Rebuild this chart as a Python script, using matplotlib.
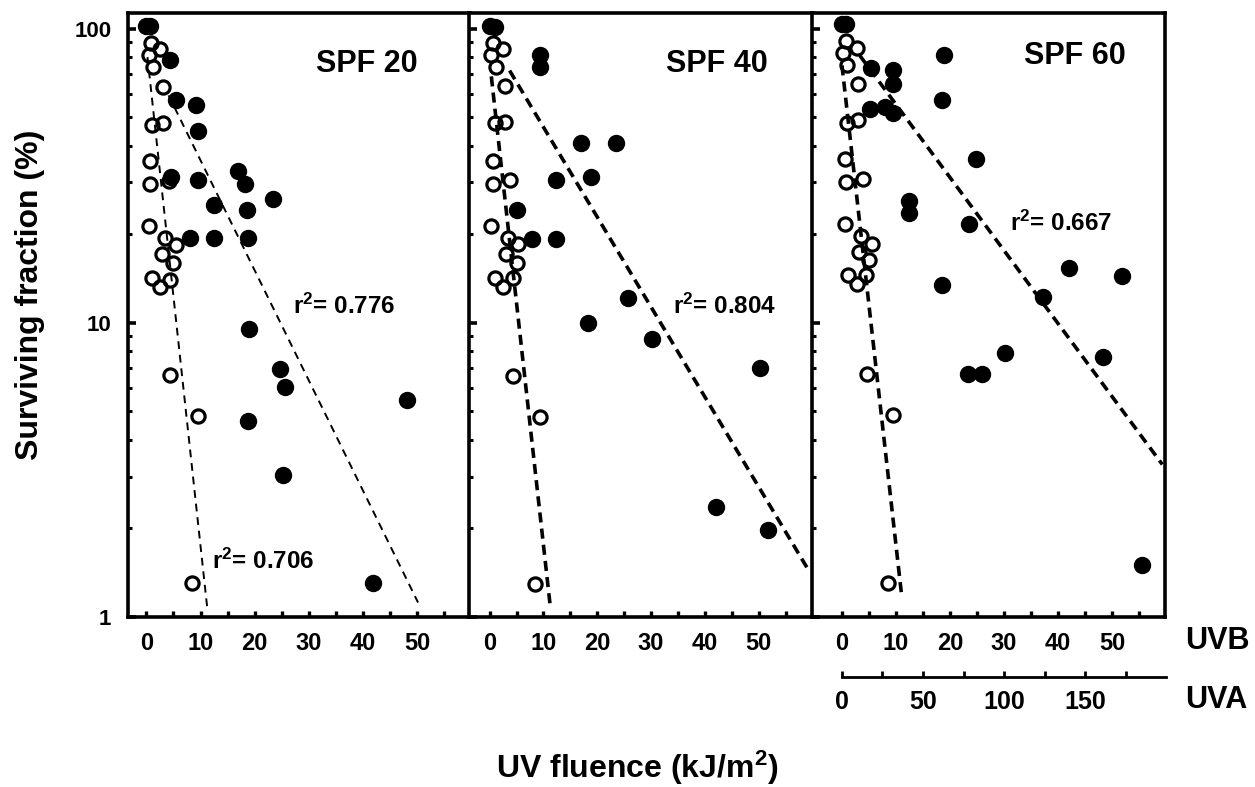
import numpy as np
import matplotlib.pyplot as plt
from matplotlib.ticker import FixedLocator, LogLocator, NullFormatter

plt.rcParams['font.family'] = ['Liberation Sans', 'DejaVu Sans']
plt.rcParams['font.weight'] = 'bold'
plt.rcParams['mathtext.fontset'] = 'custom'
plt.rcParams['mathtext.rm'] = 'Liberation Sans:bold'
plt.rcParams['mathtext.bf'] = 'Liberation Sans:bold'
plt.rcParams['mathtext.it'] = 'Liberation Sans:bold'
plt.rcParams['mathtext.default'] = 'bf'

# UVB fluence (kJ/m2) and surviving fraction (%)
spf20_closed_x = [0, 0.6, 4.4, 5.4, 9.2, 9.5, 17.0, 18.3, 23.4, 4.6, 9.5, 12.4,
                  18.5, 8.0, 12.4, 18.7, 19.0, 24.6, 25.6, 48.2, 18.8, 25.3, 41.9]
spf20_closed_s = [102, 102, 78.1, 57.1, 55.2, 44.7, 32.7, 29.6, 26.3, 31.2, 30.6, 25.2,
                  24.2, 19.4, 19.4, 19.4, 9.5, 6.95, 6.05, 5.47, 4.64, 3.05, 1.30]
spf20_open_x = [0.9, 2.6, 0.4, 1.2, 3.1, 1.05, 3.1, 0.7, 0.7, 4.1, 0.4,
                3.5, 5.5, 2.9, 5.0, 1.05, 4.4, 2.6, 4.4, 9.5, 8.4]
spf20_open_s = [89.0, 85.1, 81.2, 74.1, 63.4, 47.0, 47.6, 35.5, 29.6, 30.4, 21.3,
                19.4, 18.4, 17.1, 16.0, 14.2, 14.0, 13.2, 6.66, 4.83, 1.30]

spf40_closed_x = [0, 1.0, 9.3, 9.3, 17.0, 23.5, 12.4, 18.9, 5.0, 7.9, 12.4,
                  25.7, 18.3, 30.2, 50.2, 42.1, 51.7]
spf40_closed_s = [102, 101, 81.6, 74.1, 40.8, 40.8, 30.6, 31.4, 24.2, 19.3, 19.3,
                  12.1, 10.0, 8.79, 7.03, 2.37, 1.97]
spf40_open_x = [0.6, 2.5, 0.3, 1.1, 2.8, 0.9, 2.8, 0.6, 0.6, 3.8, 0.3,
                3.4, 5.3, 3.0, 5.0, 0.9, 4.3, 2.5, 4.3, 9.3, 8.4]
spf40_open_s = [89.0, 85.5, 81.2, 74.1, 63.9, 47.6, 48.3, 35.5, 29.6, 30.6, 21.4,
                19.4, 18.5, 17.1, 16.0, 14.2, 14.2, 13.2, 6.61, 4.8, 1.29]

spf60_closed_x = [0, 0.8, 18.8, 5.3, 9.5, 9.5, 18.5, 5.2, 8.0, 9.5, 24.8, 12.5,
                  12.5, 23.6, 42.1, 51.8, 18.5, 37.2, 30.2, 48.4, 23.4, 25.9, 55.6]
spf60_closed_s = [104, 104, 81.6, 73.2, 72.2, 64.6, 57.4, 53.2, 54.3, 51.8, 36.0, 26.0,
                  23.6, 21.7, 15.4, 14.4, 13.4, 12.2, 7.9, 7.66, 6.71, 6.71, 1.50]
spf60_open_x = [0.7, 2.7, 0.25, 0.9, 3.0, 0.9, 3.0, 0.55, 0.7, 3.9, 0.55,
                3.6, 5.5, 3.2, 5.05, 1.2, 4.4, 2.7, 4.6, 9.5, 8.5]
spf60_open_s = [90.6, 86.0, 82.9, 75.5, 64.6, 47.6, 48.8, 36.0, 30.1, 30.9, 21.7,
                19.8, 18.5, 17.4, 16.4, 14.5, 14.5, 13.5, 6.68, 4.87, 1.30]

# regression lines: end points (x, %) of the log-linear fits
spf20_open_fit = ([0.2, 11.3], [80, 1.05])
spf20_closed_fit = ([4.1, 50.2], [59.3, 1.12])
spf40_open_fit = ([0.3, 11.3], [68.8, 1.07])
spf40_closed_fit = ([3.7, 59.5], [72, 1.42])
spf60_open_fit = ([0.0, 11.1], [75, 1.16])
spf60_closed_fit = ([3.3, 59.3], [81, 3.3])

panel_titles = ['SPF 20', 'SPF 40', 'SPF 60']
open_r2 = ['0.706', None, None]
closed_r2 = ['0.776', '0.804', '0.667']

uvb_ticks = [0, 10, 20, 30, 40, 50]
uva_ticks = [0, 50, 100, 150, 200]
uva_labels = ['0', '50', '100', '150', '']

fig = plt.figure(figsize=(12.55, 7.87), dpi=100)

bottom, height = 0.216, 0.7675
rects = [(0.1020, 0.2725), (0.3737, 0.2741), (0.6470, 0.2813)]
xlims = [(-3.4, 59.8), (-3.85, 60.1), (-5.55, 59.8)]

panels = [
    (spf20_closed_x, spf20_closed_s, spf20_open_x, spf20_open_s,
     spf20_closed_fit, spf20_open_fit),
    (spf40_closed_x, spf40_closed_s, spf40_open_x, spf40_open_s,
     spf40_closed_fit, spf40_open_fit),
    (spf60_closed_x, spf60_closed_s, spf60_open_x, spf60_open_s,
     spf60_closed_fit, spf60_open_fit),
]

# where the panel texts sit (data coords)
title_pos = [(40.8, 71.4), (42.2, 71.0), (43.1, 75.9)]
closed_r2_pos = [(27.1, 10.7), (34.0, 10.7), (31.1, 20.6)]
open_r2_pos = [(12.2, 1.46), None, None]

axes = []
for i, (cx, cs, ox, os_, cfit, ofit) in enumerate(panels):
    left, width = rects[i]
    ax = fig.add_axes([left, bottom, width, height])
    axes.append(ax)
    ax.set_yscale('log')
    ax.set_ylim(1, 113)
    ax.set_xlim(*xlims[i])

    if i == 0:
        lw, dash = 1.4, (4, 3)
    else:
        lw, dash = 2.6, (2.8, 1.7)
    ax.plot(cfit[0], cfit[1], color='black', lw=lw, dashes=dash, zorder=2)
    ax.plot(ofit[0], ofit[1], color='black', lw=lw, dashes=dash, zorder=2)

    ax.plot(cx, cs, 'o', color='black', ms=11.5, zorder=3)
    ax.plot(ox, os_, 'o', mfc='none', mec='black', mew=2.3, ms=9.5, zorder=4)

    ax.text(*title_pos[i], panel_titles[i], fontsize=22, ha='center', va='baseline')
    ax.text(*closed_r2_pos[i], 'r$^2$= ' + closed_r2[i], fontsize=17.5,
            ha='left', va='baseline')
    if open_r2[i]:
        ax.text(*open_r2_pos[i], 'r$^2$= ' + open_r2[i], fontsize=17.5,
                ha='left', va='baseline')

    for sp in ax.spines.values():
        sp.set_linewidth(2.6)

    ax.set_xticks(uvb_ticks, [str(t) for t in uvb_ticks])
    ax.xaxis.set_minor_locator(FixedLocator([5, 15, 25, 35, 45, 55]))
    ax.set_yticks([1, 10, 100], ['1', '10', '100'])
    ax.yaxis.set_minor_locator(LogLocator(base=10, subs=np.arange(2, 10)))
    ax.yaxis.set_minor_formatter(NullFormatter())

    ax.tick_params(axis='x', which='both', direction='in', length=4, width=2.4,
                   pad=11, labelsize=17)
    ax.tick_params(axis='y', which='major', direction='in', length=6, width=2.6,
                   pad=12, labelsize=16)
    ax.tick_params(axis='y', which='minor', direction='in', length=3, width=2.2)
    if i > 0:
        ax.tick_params(axis='y', which='both', labelleft=False)

# second fluence scale under the last panel
uva = axes[2].secondary_xaxis(-0.1, functions=(lambda x: x * 10 / 3,
                                               lambda x: x * 3 / 10))
uva.set_ticks(uva_ticks, labels=uva_labels)
uva.xaxis.set_minor_locator(FixedLocator([25, 75, 125, 175]))
uva.spines['bottom'].set_bounds(0, 200)
uva.spines['bottom'].set_linewidth(2)
uva.tick_params(which='both', direction='in', length=4, width=2, pad=9,
                labelsize=18)

fig.text(0.944, 0.1855, 'UVB', fontsize=22, va='center', ha='left')
fig.text(0.944, 0.110, 'UVA', fontsize=22, va='center', ha='left')

fig.text(0.508, 0.012, 'UV fluence (kJ/m$^2$)', fontsize=23, ha='center',
         va='baseline')
fig.text(0.024, 0.625, 'Surviving fraction (%)', fontsize=23, rotation=90,
         ha='center', va='center')

fig.savefig('out.png', dpi=100)
